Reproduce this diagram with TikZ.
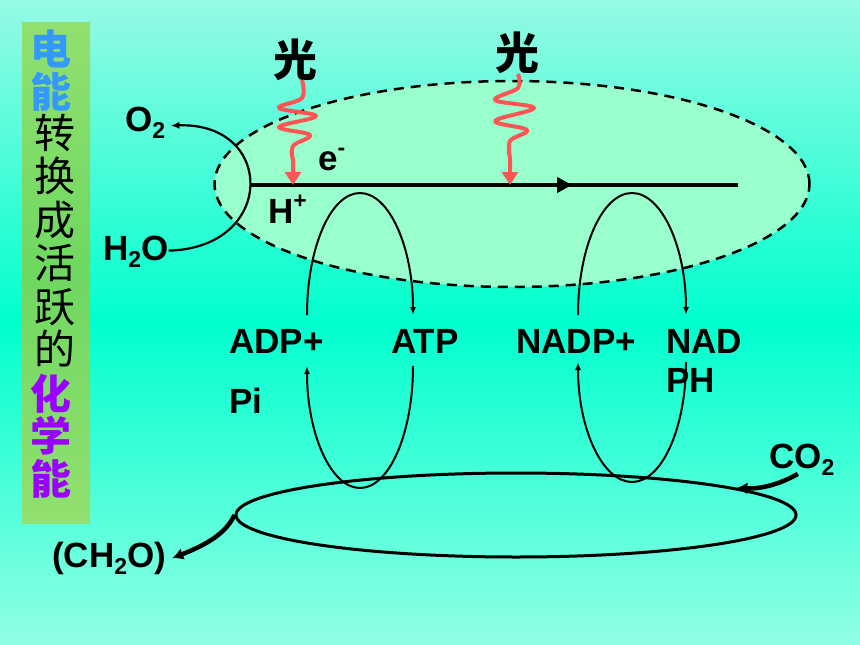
\documentclass[tikz,border=0pt]{standalone}
\usepackage{fontspec}
\setmainfont{Liberation Sans}
\newfontfamily\cjk{Noto Sans CJK SC}
\usetikzlibrary{arrows.meta,decorations.markings,shapes.geometric}
\definecolor{bgtop}{RGB}{150,250,228}
\definecolor{bgmid}{RGB}{0,255,206}
\definecolor{bgbot}{RGB}{145,255,228}
\definecolor{bartop}{RGB}{146,224,112}
\definecolor{barmid}{RGB}{110,216,96}
\definecolor{mint}{RGB}{153,255,204}
\definecolor{lightred}{RGB}{255,85,85}
\definecolor{eblue}{RGB}{51,153,255}
\definecolor{cpurple}{RGB}{153,0,255}
\newcommand\lowsub[1]{\raisebox{-0.22em}{\fontsize{23}{23}\selectfont #1}}
\newcommand\highsup[1]{\raisebox{0.42em}{\fontsize{23}{23}\selectfont #1}}
\begin{document}
\begin{tikzpicture}[x=1pt,y=-1pt,
  lbl/.style={font=\bfseries\fontsize{35}{38}\selectfont, inner sep=0pt, anchor=base west},
  bigcjk/.style={font=\cjk\bfseries\fontsize{44}{46}\selectfont, inner sep=0pt},
  barchar/.style={font=\cjk\fontsize{41}{43}\selectfont, inner sep=0pt},
  barbold/.style={font=\cjk\bfseries\fontsize{41}{43}\selectfont, inner sep=0pt},
  redwave/.style={draw=lightred, line width=4pt, line join=round, -{Triangle[length=13pt,width=16pt]}},
  loopline/.style={draw=black, line width=2pt, -{Latex[length=8pt,width=6pt]}},
  thickarrow/.style={draw=black, line width=4.5pt, -{Latex[length=11pt,width=12pt]}},
  dashell/.style={ellipse, draw=black, dashed, dash pattern=on 10pt off 7pt, line width=2.5pt, fill=mint, inner sep=0pt},
  cycell/.style={ellipse, draw=black, line width=3pt, inner sep=0pt}]
\useasboundingbox (0,0) rectangle (860,645);
% background
\shade[top color=bgtop, bottom color=bgmid] (0,0) rectangle (860,322);
\shade[top color=bgmid, bottom color=bgbot] (0,321) rectangle (860,645);
% side bar
\shade[top color=bartop, bottom color=barmid] (22,22) rectangle (90,272);
\shade[top color=barmid, bottom color=bartop] (22,271) rectangle (90,523);
\node[barbold, text=eblue] (b1) at (51,49) {电};
\node[barbold, text=eblue] (b2) at (51,92) {能};
\node[barchar] (b3) at (55,133) {转};
\node[barchar] (b4) at (55,176) {换};
\node[barchar] (b5) at (55,220) {成};
\node[barchar] (b6) at (55,263) {活};
\node[barchar] (b7) at (55,307) {跃};
\node[barchar] (b8) at (55,349) {的};
\node[barbold, text=cpurple] (b9) at (51,394) {化};
\node[barbold, text=cpurple] (b10) at (51,436) {学};
\node[barbold, text=cpurple] (b11) at (51,479) {能};
% membrane (dashed ellipse)
\node[dashell, minimum width=595pt, minimum height=206pt] (memb) at (512,184) {};
% Calvin cycle ellipse
\node[cycell, minimum width=560pt, minimum height=84pt] (cyc) at (516,515) {};
% labels
\node[lbl] (o2) at (125,131) {O\lowsub{2}};
\node[lbl] (h2o) at (103,260) {H\lowsub{2}O};
\node[lbl] (e) at (318,170) {e\highsup{-}};
\node[lbl] (hp) at (268,223) {H\highsup{+}};
\node[lbl] (adp) at (229,353) {ADP+};
\node[lbl] (pi) at (229,413) {Pi};
\node[lbl] (atp) at (391,353) {ATP};
\node[lbl] (nadp) at (516,353) {NADP+};
\node[lbl, align=left] (nadph) at (666,392) {NAD\\[1pt]PH};
\node[lbl] (co2) at (769,468) {CO\lowsub{2}};
\node[lbl] (ch2o) at (52,567) {(CH\lowsub{2}O)};
\node[bigcjk] (g1) at (295,60) {光};
\node[bigcjk] (g2) at (517,53) {光};
% electron transport line
\coordinate (ls) at (250,185);
\coordinate (le) at (738,185);
\coordinate (hit1) at (293,185);
\coordinate (hit2) at (510,185);
\draw[line width=4.5pt, postaction={decorate}, decoration={markings, mark=at position 0.66 with {\arrow{Triangle[length=15pt,width=15pt]}}}] (ls) -- (le);
% water splitting arc
\draw[draw=black, line width=2.2pt, -{Latex[length=9pt,width=7pt]}] ([yshift=1pt]h2o.east) .. controls (276,248) and (276,122) .. ([xshift=5pt,yshift=-3pt]o2.east);
% light arrows
\draw[redwave] plot[smooth, tension=0.6] coordinates {(302,80) (302,98) (279,108) (316,116) (279,127) (310,135) (293,146) (293,160)} -- (hit1);
\draw[redwave] plot[smooth, tension=0.6] coordinates {(518,74) (518,88) (495,100) (534,108) (495,121) (527,130) (510,141) (510,158)} -- (hit2);
% ATP / NADPH loops
\coordinate (adpT) at (307,315);
\coordinate (atpB) at (413,366);
\coordinate (nadpT) at (578,315);
\coordinate (nadphB) at (686,362);
\draw[loopline] (adpT) arc[start angle=180, end angle=360, x radius=53, y radius=122];
\draw[loopline] (atpB) arc[start angle=0, end angle=180, x radius=53, y radius=122];
\draw[loopline] (nadpT) arc[start angle=180, end angle=360, x radius=54, y radius=122];
\draw[loopline] (nadphB) arc[start angle=0, end angle=180, x radius=54, y radius=120];
% CO2 in, (CH2O) out
\draw[thickarrow] ([xshift=-4pt,yshift=2pt]co2.south) .. controls (780,484) and (762,489) .. (cyc.7);
\draw[thickarrow] (cyc.west) .. controls (226,533) and (208,544) .. ([xshift=6pt]ch2o.east);
\end{tikzpicture}
\end{document}
